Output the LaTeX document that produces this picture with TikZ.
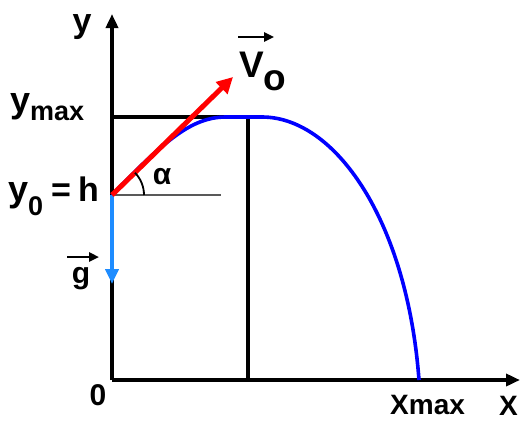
\documentclass[tikz,border=0pt]{standalone}
\usepackage{fontspec}
\setmainfont{Liberation Sans}
\usetikzlibrary{arrows.meta}
\begin{document}
\begin{tikzpicture}[x=1pt,y=-1pt,
  axis/.style={line width=3.6pt,-{Triangle[length=14pt,width=12pt]}},
  thin/.style={line width=3.2pt},
  lbl/.style={inner sep=0pt,font=\fontsize{30}{30}\selectfont\bfseries},
  vecarr/.style={line width=2.4pt,-{Triangle[length=10pt,width=9pt]}}]
\useasboundingbox (0,0) rectangle (522,421);
\fill[white] (0,0) rectangle (522,421);
% key points
\coordinate (O) at (112,380);
\coordinate (Ytop) at (112,14);
\coordinate (Xend) at (520,380);
\coordinate (L) at (112,195);
\coordinate (Ym) at (112,117);
\coordinate (P) at (248,117);
\coordinate (Pb) at (248,380);
\coordinate (Vtip) at (233,77);
\coordinate (Gtip) at (112,284);
\coordinate (H) at (221,195);
\coordinate (Land) at (419,380);
% axes
\draw[axis] (O) -- (Ytop);
\draw[axis] (O) -- (Xend);
% ymax lines
\draw[thin] (Ym) -- (P) -- (Pb);
% horizontal reference
\draw[line width=1.6pt,black!65] (L) -- (H);
% trajectory
\draw[line width=3.6pt,blue] (L) .. controls (165,140) and (192,117) .. (226,117)
  -- (262,117) .. controls (335,117) and (407,220) .. (Land);
% g vector
\draw[line width=4.5pt,color={rgb,255:red,30;green,140;blue,255},-{Triangle[length=15pt,width=13pt]}] (L) -- (Gtip);
% v0 vector
\draw[line width=5pt,red,-{Triangle[length=16pt,width=16pt]}] (L) -- (Vtip);
% angle
\draw[line width=1.8pt] ([shift={(0:32pt)}]L) arc[start angle=0,end angle=44,radius=32pt];
% labels
\node[lbl,anchor=base,font=\fontsize{34}{34}\selectfont\bfseries] (ylab) at (82,32) {y};
\node[lbl,anchor=base west] (ymax) at (10,112) {{\fontsize{36}{36}\selectfont\bfseries y}\raisebox{-8pt}{\fontsize{27}{27}\selectfont\bfseries max}};
\node[lbl,anchor=base west] (y0) at (8,201) {{\fontsize{36}{36}\selectfont\bfseries y}\raisebox{-14pt}{\fontsize{27}{27}\selectfont\bfseries 0}\hspace{8pt}{\fontsize{34}{34}\selectfont\bfseries =\hspace{7pt}h}};
\node[lbl,anchor=center] (alpha) at (162,177) {α};
\node[lbl,anchor=base west,font=\fontsize{37}{37}\selectfont\bfseries] (V) at (239,77) {V\raisebox{-13pt}{o}};
\draw[vecarr] (238,37) -- (274,37);
\node[lbl,anchor=base] (g) at (81,283) {g};
\draw[vecarr] (67,257) -- (99,257);
\node[lbl,anchor=center] (zero) at (98,395) {0};
\node[lbl,anchor=base west,font=\fontsize{28}{28}\selectfont\bfseries] (xmax) at (390,414) {Xmax};
\node[lbl,anchor=base west,font=\fontsize{28}{28}\selectfont\bfseries] (X) at (499,415) {X};
\end{tikzpicture}
\end{document}
